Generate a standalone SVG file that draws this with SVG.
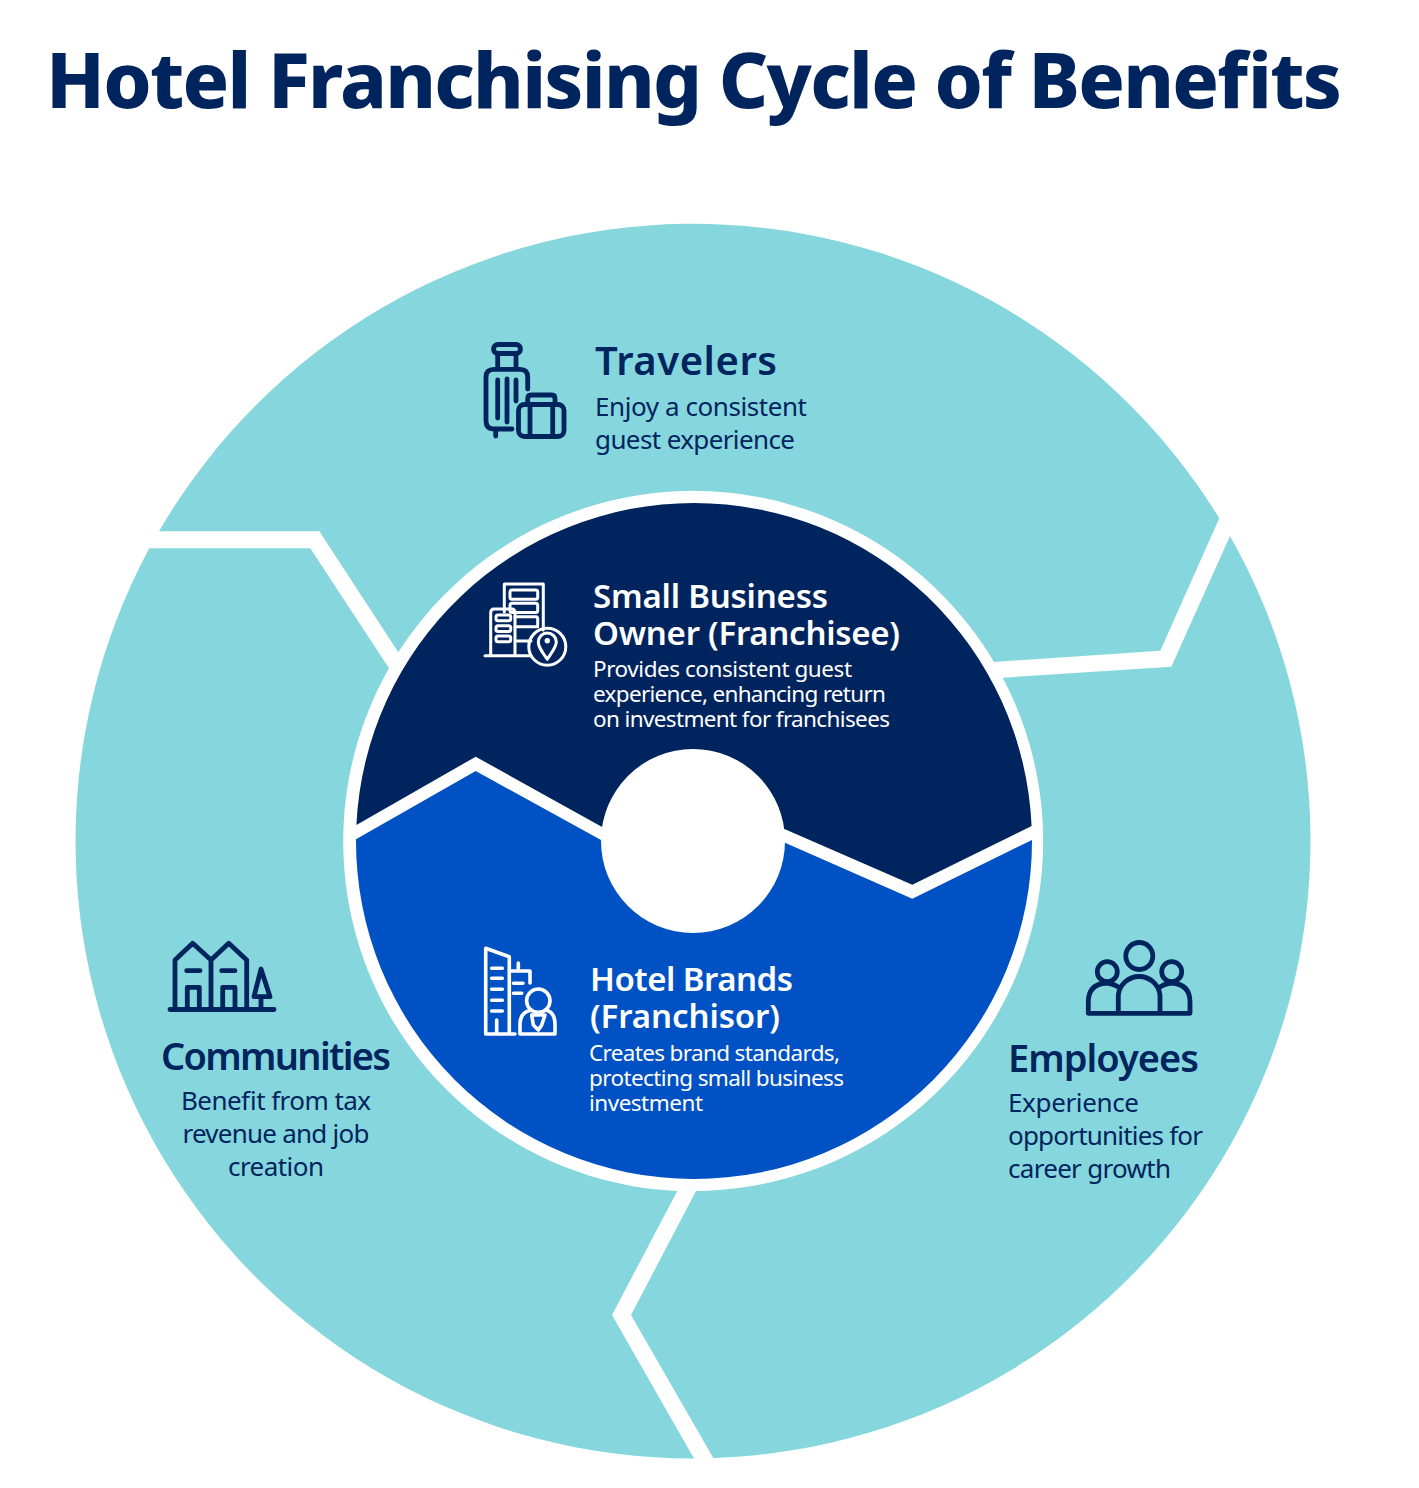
<svg xmlns="http://www.w3.org/2000/svg" width="1419" height="1488" viewBox="0 0 1419 1488">
<style>
text{font-family:"Noto Sans","Liberation Sans",sans-serif;fill:#00245d}
.title{font-size:77px;font-weight:800}
.h{font-size:38px;font-weight:600}
.b{font-size:26px}
.ih{font-size:33px;font-weight:600;fill:#fff}
.ib{font-size:22.5px;fill:#fff}
.teal{fill:#85d7dd}
.n{fill:none;stroke:#00245d;stroke-width:4.8;stroke-linecap:round;stroke-linejoin:round}
.w{fill:none;stroke:#fff;stroke-width:3;stroke-linecap:round;stroke-linejoin:round}
.w2{stroke-width:3.6}
</style>
<rect width="1419" height="1488" fill="#fff"/>
<text class="title" x="46" y="108" textLength="1296" lengthAdjust="spacing">Hotel Franchising Cycle of Benefits</text>
<g id="connectors"/>
<g id="travelers">
<path class="teal" d="M159,531.3A617.5,617.5 0 0 1 1219.3,518.3L1160.3,650.7L994,662A350,350 0 0 0 398.3,652.3L319.3,531.3Z"/>
<g class="n">
<rect x="493.5" y="344.5" width="27" height="9" rx="4.5"/>
<path d="M497.7,355V369M516,355V369M527.7,389V377Q527.7,369.3 520,369.3H494Q486,369.3 486,377V421Q486,429 494,429H512M495.7,430V436M497.7,380V418M507,379V422M516,380V401"/>
<rect x="518.5" y="404.5" width="45.5" height="32" rx="6"/>
<path d="M527.7,404V399Q527.7,395 531,395H552Q555,395 555,399V404M530,405V436M552.7,405V436"/>
</g>
<text class="h" x="595" y="375" textLength="182" font-size="40" style="font-size:40px">Travelers</text>
<text class="b" x="595" y="416" textLength="212">Enjoy a consistent</text>
<text class="b" x="595" y="449" textLength="200">guest experience</text>
</g>
<g id="employees">
<path class="teal" d="M1230,536A617.5,617.5 0 0 1 713.3,1458L631,1315L696,1191A350,350 0 0 0 1002.7,677.7L1171.3,666.7Z"/>
<g class="n">
<circle cx="1139.3" cy="956" r="13.5"/>
<circle cx="1107.3" cy="971.7" r="10"/>
<circle cx="1171.7" cy="971.7" r="10"/>
<path d="M1118.3,1012V995A21,21 0 0 1 1160,995V1012M1118.3,987Q1112,983 1105,983Q1088.3,985 1088.3,1002V1013.3H1190V1002Q1190,985 1173,983Q1166,983 1160,987"/>
</g>
<text class="h" x="1008" y="1072" textLength="191">Employees</text>
<text class="b" x="1008" y="1112" textLength="131">Experience</text>
<text class="b" x="1008" y="1145" textLength="195">opportunities for</text>
<text class="b" x="1008" y="1178" textLength="163">career growth</text>
</g>
<g id="communities">
<path class="teal" d="M694,1458.5A617.5,617.5 0 0 1 149.3,548.3H310.3L389,668.3A350,350 0 0 0 677.3,1191L612,1315Z"/>
<g class="n">
<path d="M170,1009.5H274"/>
<path d="M175,1008V960L192.7,943.3L211,960L228.7,943.3L246.7,960V1008M211,960V1008M186.7,970.7H200M221.7,970.7H235M187.3,1008V987.3H199.3V1008M222.7,1008V987.3H235V1008M261,969L270,996.7H254ZM261,997V1008"/>
</g>
<text class="h" x="161" y="1070" textLength="230">Communities</text>
<text class="b" x="276" y="1110" text-anchor="middle" textLength="190">Benefit from tax</text>
<text class="b" x="276" y="1143" text-anchor="middle" textLength="187">revenue and job</text>
<text class="b" x="276" y="1176" text-anchor="middle" textLength="96">creation</text>
</g>
<g id="owner">
<path fill="#00245d" d="M356.4,825L475.7,756.7L601.7,826.7L785,829.3L912.3,884.7L1031.6,826A338,338 0 0 0 694,503A338,338 0 0 0 356.4,825Z"/>
<g class="w">
<path d="M504.3,612V584H543.3V630M490.7,655V613Q490.7,609 494,609H512Q515,609 515,613V655M485,655.7H530M515,641H531"/>
<rect x="510" y="590" width="27.7" height="9.3" rx="2"/>
<rect x="510" y="603.3" width="27.7" height="9.3" rx="2"/>
<path d="M515,616.7H536Q537.7,616.7 537.7,619V626.7H515"/>
<rect x="496" y="615" width="14.7" height="5.7" rx="2"/>
<rect x="496" y="625.7" width="14.7" height="5.7" rx="2"/>
<rect x="496" y="636" width="14.7" height="5.7" rx="2"/>
<circle cx="547.3" cy="646.7" r="18.5"/>
<path d="M547.3,659.3C542,652 538.3,647 538.3,642A9,9 0 0 1 556.3,642C556.3,647 552,652 547.3,659.3Z"/>
</g>
<circle cx="547.3" cy="640.7" r="2.7" fill="#fff"/>
<text class="ih" x="593" y="608" textLength="235">Small Business</text>
<text class="ih" x="593" y="645" textLength="307">Owner (Franchisee)</text>
<text class="ib" x="593" y="677" textLength="259">Provides consistent guest</text>
<text class="ib" x="593" y="702" textLength="293">experience, enhancing return</text>
<text class="ib" x="593" y="727" textLength="297">on investment for franchisees</text>
</g>
<g id="brands">
<path fill="#0051c3" d="M356,839.3L475.7,771L601,840L785,842.7L912.3,898.7L1032,840A338,338 0 0 1 694,1179A338,338 0 0 1 356,839.3Z"/>
<circle cx="693" cy="841" r="92" fill="#fff"/>
<g class="w w2">
<path d="M485.7,1034V948.3L509.3,956.7V1034M485.7,1034H515M491.7,968.3H502.3M491.7,978.3H502.3M491.7,989.3H502.3M491.7,1000.3H502.3M491.7,1011H502.3M496.7,1020V1034M509.3,971H530V983M518.3,963V971M513.5,983.3H523M513.5,993.3H521.7"/>
<circle cx="538.3" cy="1000.7" r="11.7"/>
<path d="M520,1034V1024Q520,1013 530,1010.5M547,1010.5Q555,1013 555,1024V1034H520M531.7,1015H545L541.7,1025L538.3,1030L533.3,1025Z"/>
</g>
<text class="ih" x="590" y="991" textLength="203">Hotel Brands</text>
<text class="ih" x="590" y="1028" textLength="190">(Franchisor)</text>
<text class="ib" x="589" y="1061" textLength="251">Creates brand standards,</text>
<text class="ib" x="589" y="1086" textLength="255">protecting small business</text>
<text class="ib" x="589" y="1111" textLength="114">investment</text>
</g>
</svg>
